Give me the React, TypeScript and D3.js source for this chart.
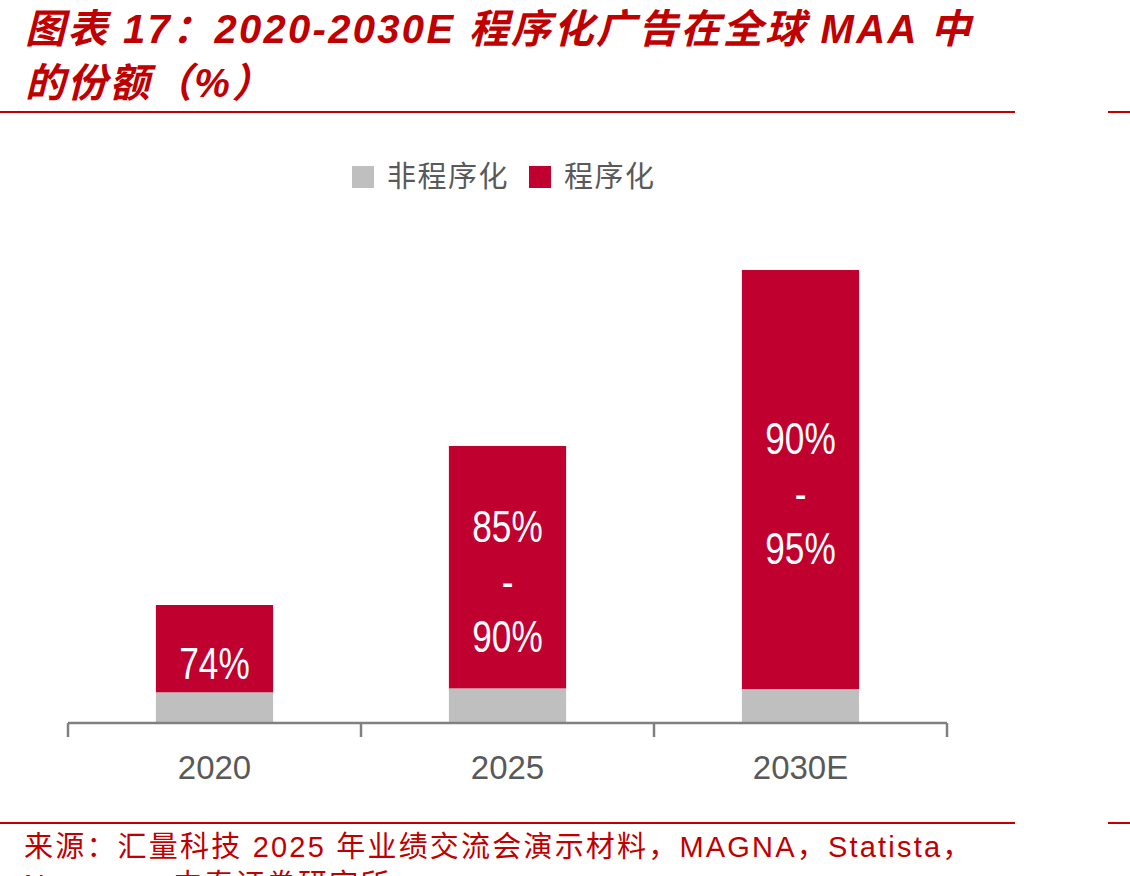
import { useEffect, useRef } from 'react';
import * as d3 from 'd3';

// 各年份 MAA 规模（相对单位）与程序化占比区间
const years = ['2020', '2025', '2030E'];
const totals = [118, 277, 453];
const shareLow = [74, 85, 90];
const shareHigh = [74, 90, 95];

const legendItems = ['非程序化', '程序化'];
const colors = ['#bfbfbf', '#c0002f'];

const titleLines = ['图表 17：2020-2030E 程序化广告在全球 MAA 中', '的份额（%）'];
const sourceLines = ['来源：汇量科技 2025 年业绩交流会演示材料，MAGNA，Statista，', 'Newzoo，中泰证券研究所'];

const W = 1130;
const H = 876;
const RED = '#c00000';
const CJK = '"Liberation Sans", Arial, "Noto Sans CJK SC", sans-serif';

export default function App() {
  const svgRef = useRef<SVGSVGElement>(null);

  useEffect(() => {
    if (!svgRef.current) return;
    const svg = d3.select(svgRef.current);
    svg.selectAll('*').remove();

    // 标题
    svg.append('g')
      .selectAll('text')
      .data(titleLines)
      .enter()
      .append('text')
      .attr('x', 25)
      .attr('y', (_, i) => 43 + i * 54)
      .text(d => d)
      .style('font-family', CJK)
      .style('font-size', '40px')
      .style('letter-spacing', '2.3px')
      .style('font-weight', 'bold')
      .style('font-style', 'italic')
      .style('fill', RED);

    // 上下分隔线
    const rules = [112, 823];
    rules.forEach(y => {
      svg.append('line').attr('x1', 0).attr('x2', 1015).attr('y1', y).attr('y2', y)
        .style('stroke', RED).style('stroke-width', 2);
      svg.append('line').attr('x1', 1108).attr('x2', W).attr('y1', y).attr('y2', y)
        .style('stroke', RED).style('stroke-width', 2);
    });

    // 图例
    const legend = svg.append('g').attr('transform', 'translate(352,166)');
    const legendX = [0, 177];
    legendItems.forEach((name, i) => {
      legend.append('rect').attr('x', legendX[i]).attr('y', 0).attr('width', 22).attr('height', 22)
        .style('fill', colors[i]);
      legend.append('text').attr('x', legendX[i] + 35).attr('y', 21)
        .text(name)
        .style('font-family', '"Noto Sans CJK SC", sans-serif')
        .style('font-size', '29px')
        .style('letter-spacing', '1.5px')
        .style('fill', '#595959');
    });

    // 柱状图
    const x = d3.scaleBand<string>()
      .domain(years)
      .range([68, 947])
      .paddingInner(0.6)
      .paddingOuter(0.3);
    const baseY = 723;
    const y = d3.scaleLinear().domain([0, 500]).range([baseY, baseY - 500]);

    const rows = years.map((yr, i) => {
      const mid = (shareLow[i] + shareHigh[i]) / 2 / 100;
      const prog = totals[i] * mid;
      return { yr, non: totals[i] - prog, prog, lo: shareLow[i], hi: shareHigh[i] };
    });
    const stacked = d3.stack<any>().keys(['non', 'prog'])(rows);

    const g = svg.append('g');
    g.selectAll('g.layer')
      .data(stacked)
      .enter()
      .append('g')
      .attr('class', 'layer')
      .style('fill', (_, i) => colors[i])
      .selectAll('rect')
      .data(d => d)
      .enter()
      .append('rect')
      .attr('x', d => x(d.data.yr)!)
      .attr('width', x.bandwidth())
      .attr('y', d => y(d[1]))
      .attr('height', d => y(d[0]) - y(d[1]));

    // 柱内数值标签（细长字形，横向压缩）
    const progLayer = stacked[1];
    progLayer.forEach(d => {
      const r = d.data;
      const cx = x(r.yr)! + x.bandwidth() / 2;
      const cy = (y(d[0]) + y(d[1])) / 2 + 14;
      const lines = r.lo === r.hi ? [`${r.lo}%`] : [`${r.lo}%`, '-', `${r.hi}%`];
      const step = 55;
      lines.forEach((t, j) => {
        g.append('text')
          .attr('transform', `translate(${cx},${cy + (j - (lines.length - 1) / 2) * step}) scale(0.8,1)`)
          .attr('dy', '0.36em')
          .attr('text-anchor', 'middle')
          .text(t)
          .style('font-family', '"Liberation Sans", Arial, sans-serif')
          .style('font-size', '44px')
          .style('fill', '#ffffff');
      });
    });

    // 横轴
    const axis = svg.append('g');
    axis.append('line').attr('x1', 68).attr('x2', 947).attr('y1', baseY).attr('y2', baseY)
      .style('stroke', '#808080').style('stroke-width', 2.5);
    const tickPos = [68, ...years.map(yr => x(yr)! + x.bandwidth() / 2 + x.step() / 2)];
    axis.selectAll('line.tick')
      .data(tickPos)
      .enter()
      .append('line')
      .attr('class', 'tick')
      .attr('x1', d => d).attr('x2', d => d)
      .attr('y1', baseY).attr('y2', baseY + 14)
      .style('stroke', '#808080').style('stroke-width', 2.5);
    axis.selectAll('text')
      .data(years)
      .enter()
      .append('text')
      .attr('x', d => x(d)! + x.bandwidth() / 2)
      .attr('y', 779)
      .attr('text-anchor', 'middle')
      .text(d => d)
      .style('font-family', '"Liberation Sans", Arial, sans-serif')
      .style('font-size', '33px')
      .style('fill', '#595959');

    // 资料来源
    svg.append('g')
      .selectAll('text')
      .data(sourceLines)
      .enter()
      .append('text')
      .attr('x', 24)
      .attr('y', (_, i) => 857 + i * 38)
      .text(d => d)
      .style('font-family', CJK)
      .style('font-size', '29px')
      .style('letter-spacing', '2.2px')
      .style('fill', RED);
  }, []);

  return (
    <svg
      ref={svgRef}
      width={W}
      height={H}
      style={{ position: 'fixed', left: 0, top: 0, background: '#ffffff', display: 'block' }}
    />
  );
}
